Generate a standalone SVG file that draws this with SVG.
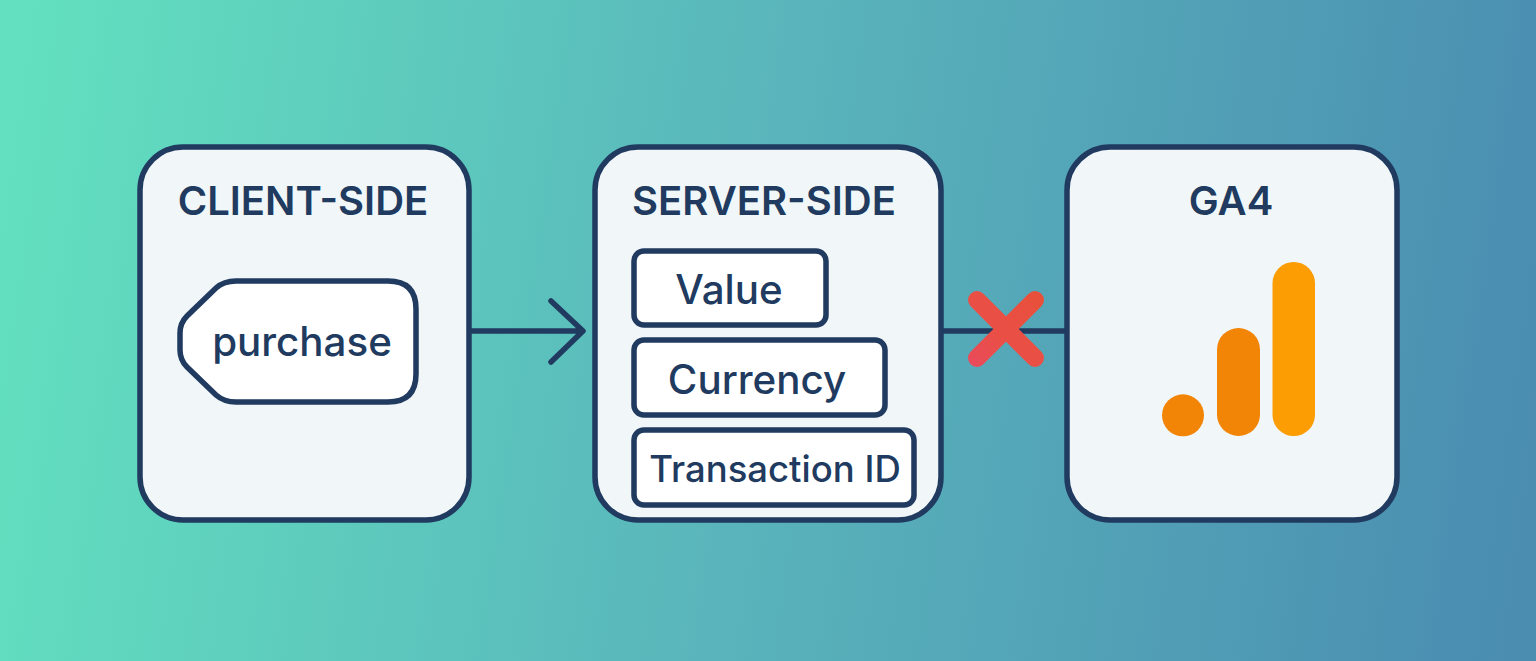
<svg xmlns="http://www.w3.org/2000/svg" width="1536" height="661" viewBox="0 0 1536 661">
<defs>
<linearGradient id="bg" gradientUnits="userSpaceOnUse" x1="0" y1="220" x2="1536" y2="440">
<stop offset="0" stop-color="#62e0bf"/><stop offset="0.5" stop-color="#59b4bb"/><stop offset="1" stop-color="#4a8db1"/>
</linearGradient>
<linearGradient id="x" gradientUnits="userSpaceOnUse" x1="970" y1="365" x2="1040" y2="295">
<stop offset="0" stop-color="#ea4a5c"/><stop offset="0.4" stop-color="#ea4f47"/><stop offset="1" stop-color="#e8503a"/>
</linearGradient>
</defs>
<style>
.card{fill:#f1f6f8;stroke:#203a60;stroke-width:5.5}
.chip{fill:#fff;stroke:#203a60;stroke-width:5.5}
.title{font:600 40px "Inter","Liberation Sans",sans-serif;fill:#203a60;text-anchor:middle}
.lbl{font:550 40.3px "Inter","Liberation Sans",sans-serif;fill:#203a60;text-anchor:middle}
.line{fill:none;stroke:#203a60;stroke-width:5.5;stroke-linecap:round;stroke-linejoin:round}
</style>
<rect width="1536" height="661" fill="url(#bg)"/>
<g id="connectors">
<path class="line" d="M470 331H582M551 301L583 331L551 362"/>
<path class="line" d="M942 331H1066"/>
<path d="M977 300L1035 358M1035 300L977 358" fill="none" stroke="url(#x)" stroke-width="18" stroke-linecap="round"/>
</g>
<g id="client">
<rect class="card" x="140" y="147" width="329" height="373" rx="43"/>
<text class="title" x="303" y="215">CLIENT-SIDE</text>
<path class="chip" d="M236 281H388Q416 281 416 309V374Q416 402 388 402H236Q224 402 216 395L187 367Q180 360 180 350V333Q180 323 187 316L216 288Q224 281 236 281Z"/>
<text class="lbl" x="302" y="356">purchase</text>
</g>
<g id="server">
<rect class="card" x="595" y="147" width="346" height="373" rx="43"/>
<text class="title" x="764" y="215">SERVER-SIDE</text>
<rect class="chip" x="634" y="251" width="192" height="74" rx="10"/>
<text class="lbl" x="729" y="304">Value</text>
<rect class="chip" x="634" y="340" width="251" height="75" rx="10"/>
<text class="lbl" x="757" y="394">Currency</text>
<rect class="chip" x="634" y="430" width="280" height="75" rx="10"/>
<text class="lbl" style="font-size:36.5px" x="775" y="482">Transaction ID</text>
</g>
<g id="ga4">
<rect class="card" x="1067" y="147" width="330" height="373" rx="43"/>
<text class="title" x="1231" y="215">GA4</text>
<circle cx="1183" cy="415.3" r="21" fill="#f28505"/>
<rect x="1217" y="328" width="43" height="108" rx="21.5" fill="#f28505"/>
<rect x="1272.5" y="262" width="42.5" height="174" rx="21.2" fill="#fb9d03"/>
</g>
</svg>
